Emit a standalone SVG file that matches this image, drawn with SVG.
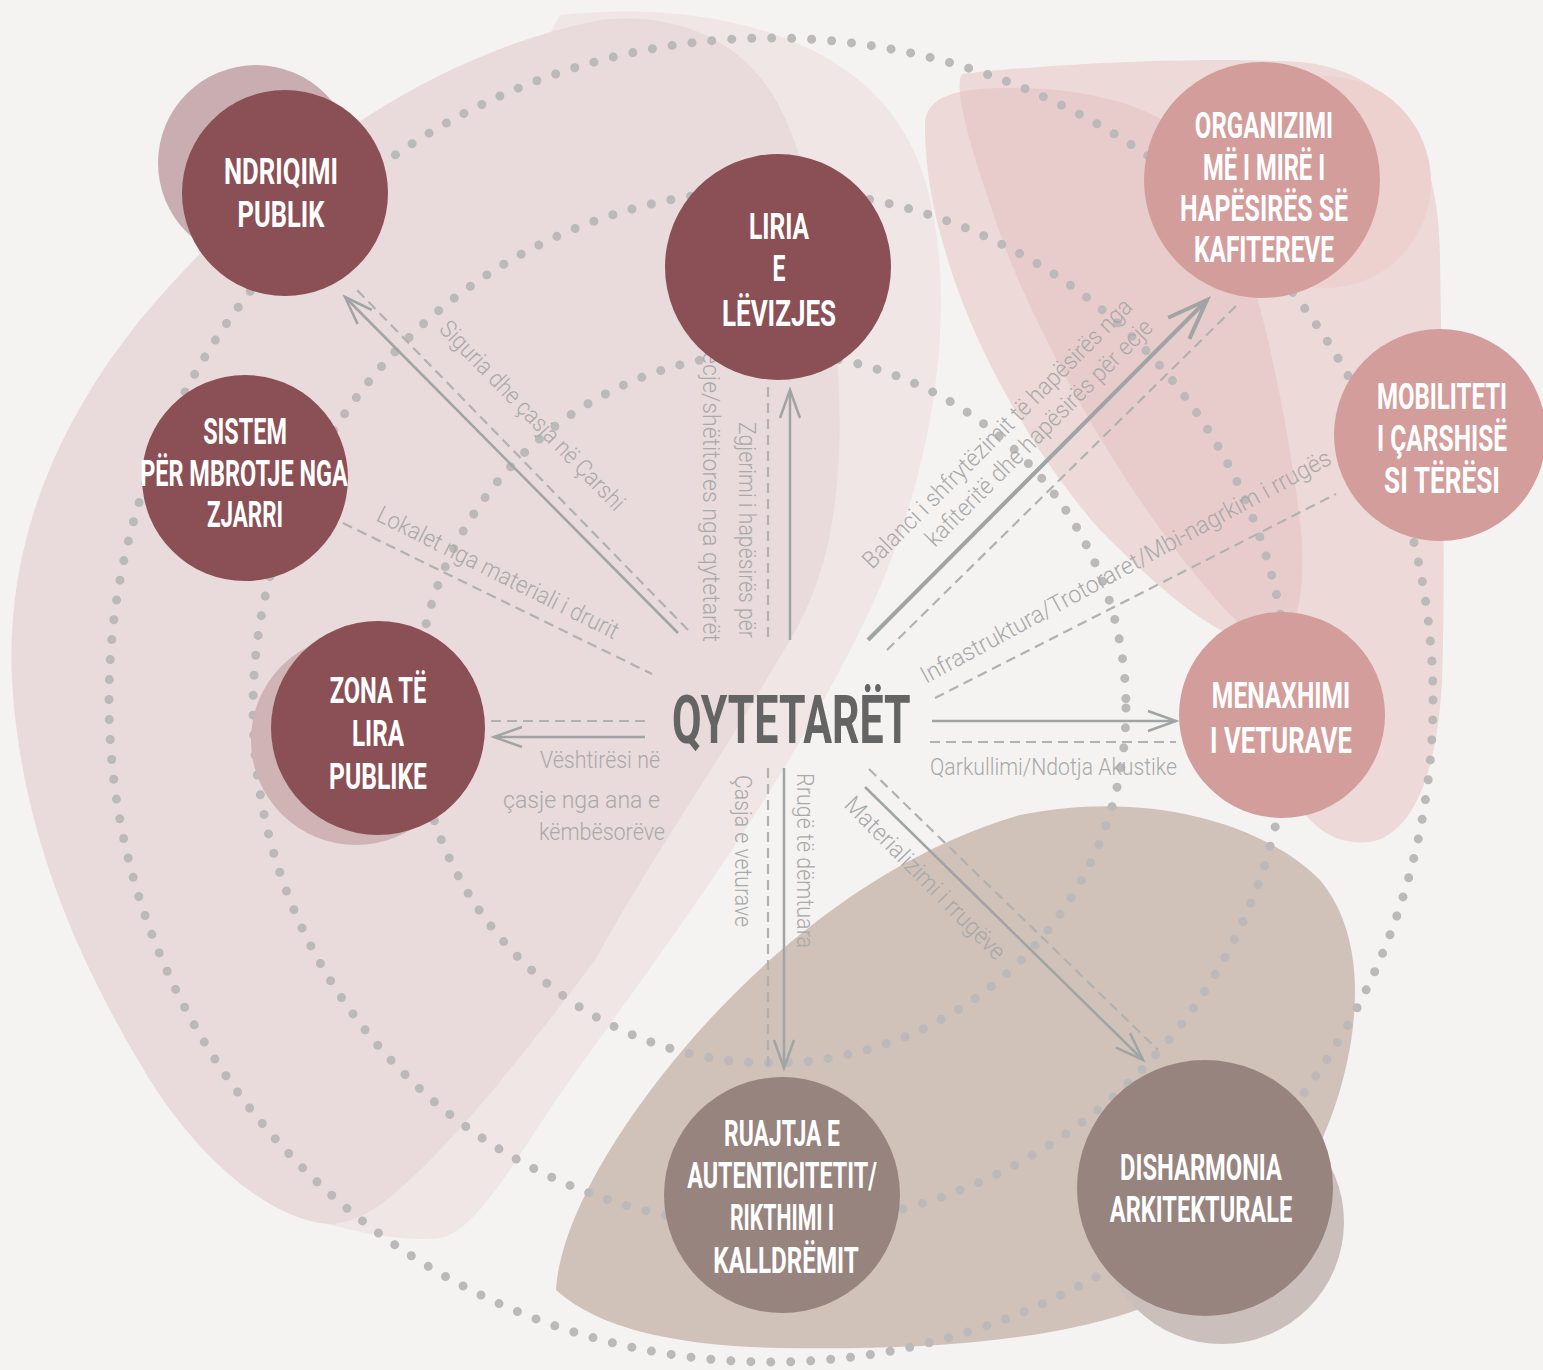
<svg xmlns="http://www.w3.org/2000/svg" width="1543" height="1370" viewBox="0 0 1543 1370">
<defs>
<style>
.dot{fill:none;stroke:#bbb9b9;stroke-width:9;stroke-linecap:round;stroke-dasharray:0 20}
.sol{fill:none;stroke:#a0a4a4;stroke-width:2.5}
.dsh{fill:none;stroke:#b1b1b1;stroke-width:2.2;stroke-dasharray:10 6}
.lbl{font-family:Roboto,"Liberation Sans",sans-serif;font-weight:300;font-size:24px;fill:#a9a9a9}
.nl{font-family:Roboto,"Liberation Sans",sans-serif;font-weight:700;font-size:37px;fill:#ffffff;text-anchor:middle}
.n-dark{fill:#8b4f56}
.n-pink{fill:#d39d9c}
.n-brown{fill:#97847f}
.rp{fill:#e4c0be;opacity:0.5}
</style>
<marker id="arr" viewBox="-32 -14 34 28" refX="0" refY="0" markerWidth="34" markerHeight="28" markerUnits="userSpaceOnUse" orient="auto" overflow="visible">
<path d="M-28,-10 L0,0 L-28,10" fill="none" stroke="#a0a4a4" stroke-width="2.5"/>
</marker>
<marker id="arrBig" viewBox="-46 -20 48 40" refX="0" refY="0" markerWidth="48" markerHeight="40" markerUnits="userSpaceOnUse" orient="auto" overflow="visible">
<path d="M-40,-15 L0,0 L-40,15" fill="none" stroke="#a0a4a4" stroke-width="4"/>
</marker>
</defs>

<rect x="0" y="0" width="1543" height="1370" fill="#f4f3f2"/>

<g id="background-shapes">
<path d="M560,15 C700,0 880,30 925,180 C960,300 935,470 870,610 C790,780 670,940 570,1080 C520,1150 480,1230 440,1238 C400,1242 360,1232 330,1225 L300,1200 C250,1100 400,300 560,15 Z" fill="#f0e6e6"/>
<path d="M600,20 C690,10 760,50 790,130 C830,230 845,380 838,470 C832,560 810,610 778,660 C720,760 650,860 595,960 C520,1060 440,1160 380,1205 C350,1225 330,1226 315,1222 C265,1212 200,1160 150,1080 C70,950 20,820 12,680 C5,540 60,420 140,320 C240,200 400,60 600,20 Z" fill="#e9dadb"/>
<path class="rp" d="M925,125 C925,95 960,88 1010,88 C1090,88 1160,105 1200,150 C1250,230 1285,400 1300,520 C1308,600 1295,645 1265,645 C1220,642 1160,590 1100,530 C1030,450 970,340 945,250 C930,200 925,160 925,125 Z"/>
<path class="rp" d="M962,74 C1050,64 1200,56 1300,62 C1400,72 1440,150 1440,260 C1442,400 1446,560 1442,680 C1437,780 1410,835 1370,842 C1330,846 1300,822 1282,770 C1270,720 1280,680 1270,650 C1200,600 1080,430 1010,260 C985,190 950,92 962,74 Z"/>
<path d="M556,1290 C560,1220 620,1120 700,1030 C790,930 900,850 1020,815 C1140,790 1260,820 1320,880 C1370,940 1360,1040 1330,1120 C1300,1200 1230,1270 1150,1305 C1050,1345 900,1350 780,1348 C680,1346 600,1330 556,1290 Z" fill="#d0c1b9"/>
</g>

<g id="dotted-rings">
<circle class="dot" cx="771" cy="700" r="662"/>
<circle class="dot" cx="771" cy="708" r="518"/>
<circle class="dot" cx="771" cy="708" r="355"/>
</g>

<g id="connectors">
<line class="sol" x1="678" y1="633" x2="345" y2="297" marker-end="url(#arr)"/>
<line class="dsh" x1="688" y1="630" x2="357" y2="290"/>
<text class="lbl" transform="translate(438,330) rotate(45.8)" textLength="254" lengthAdjust="spacingAndGlyphs">Siguria dhe çasja në Çarshi</text>

<line class="dsh" x1="343" y1="523" x2="652" y2="674"/>
<text class="lbl" transform="translate(375,520) rotate(26.6)" textLength="267" lengthAdjust="spacingAndGlyphs">Lokalet nga materiali i drurit</text>

<line class="sol" x1="790" y1="640" x2="790" y2="390" marker-end="url(#arr)"/>
<line class="dsh" x1="768" y1="387" x2="768" y2="640"/>
<text class="lbl" transform="translate(739,422) rotate(90)" textLength="216" lengthAdjust="spacingAndGlyphs">Zgjerimi i hapësirës për</text>
<text class="lbl" transform="translate(703,352) rotate(90)" textLength="290" lengthAdjust="spacingAndGlyphs">ecje/shëtitores nga qytetarët</text>

<line x1="868" y1="640" x2="1207" y2="300" stroke="#a0a4a4" stroke-width="4" marker-end="url(#arrBig)"/>
<line class="dsh" x1="887" y1="650" x2="1237" y2="305"/>
<text class="lbl" transform="translate(872,570) rotate(-45)" textLength="370" lengthAdjust="spacingAndGlyphs">Balanci i shfrytëzimit të hapësirës nga</text>
<text class="lbl" transform="translate(935,548) rotate(-45)" textLength="310" lengthAdjust="spacingAndGlyphs">kafiteritë dhe hapësirës për ecje</text>

<line class="dsh" x1="935" y1="698" x2="1336" y2="494"/>
<text class="lbl" transform="translate(926,684) rotate(-28.5)" textLength="463" lengthAdjust="spacingAndGlyphs">Infrastruktura/Trotoraret/Mbi-nagrkim i rrugës</text>

<line class="sol" x1="932" y1="721" x2="1176" y2="721" marker-end="url(#arr)"/>
<line class="dsh" x1="930" y1="742" x2="1176" y2="742"/>
<text class="lbl" x="930" y="775" textLength="247" lengthAdjust="spacingAndGlyphs">Qarkullimi/Ndotja Akustike</text>

<line class="dsh" x1="645" y1="721" x2="491" y2="721"/>
<line class="sol" x1="645" y1="737" x2="494" y2="737" marker-end="url(#arr)"/>
<text class="lbl" x="660" y="768" text-anchor="end" textLength="120" lengthAdjust="spacingAndGlyphs">Vështirësi në</text>
<text class="lbl" x="660" y="808" text-anchor="end" textLength="157" lengthAdjust="spacingAndGlyphs">çasje nga ana e</text>
<text class="lbl" x="665" y="840" text-anchor="end" textLength="126" lengthAdjust="spacingAndGlyphs">këmbësorëve</text>

<line class="dsh" x1="768" y1="768" x2="768" y2="1072"/>
<line class="sol" x1="784" y1="768" x2="784" y2="1068" marker-end="url(#arr)"/>
<text class="lbl" transform="translate(735,775) rotate(90)" textLength="152" lengthAdjust="spacingAndGlyphs">Çasja e veturave</text>
<text class="lbl" transform="translate(797,773) rotate(90)" textLength="175" lengthAdjust="spacingAndGlyphs">Rrugë të dëmtuara</text>

<line class="dsh" x1="869" y1="769" x2="1158" y2="1050"/>
<line class="sol" x1="865" y1="787" x2="1143" y2="1060" marker-end="url(#arr)"/>
<text class="lbl" transform="translate(843,806) rotate(45.5)" textLength="218" lengthAdjust="spacingAndGlyphs">Materializimi i rrugëve</text>
</g>

<g id="node-ndriqimi">
<circle cx="256" cy="163" r="98" fill="#c9adb0"/>
<circle class="n-dark" cx="285" cy="193" r="103"/>
<text class="nl" transform="translate(281,184) scale(0.62,1)" textLength="184" lengthAdjust="spacingAndGlyphs">NDRIQIMI</text>
<text class="nl" transform="translate(281,227) scale(0.62,1)" textLength="140" lengthAdjust="spacingAndGlyphs">PUBLIK</text>
</g>

<g id="node-liria">
<circle class="n-dark" cx="778" cy="267" r="113"/>
<text class="nl" transform="translate(779,239) scale(0.62,1)" textLength="97" lengthAdjust="spacingAndGlyphs">LIRIA</text>
<text class="nl" transform="translate(779,281) scale(0.62,1)">E</text>
<text class="nl" transform="translate(779,326) scale(0.62,1)" textLength="184" lengthAdjust="spacingAndGlyphs">LËVIZJES</text>
</g>

<g id="node-sistem">
<circle class="n-dark" cx="245" cy="478" r="103"/>
<text class="nl" transform="translate(245,444) scale(0.62,1)" textLength="135" lengthAdjust="spacingAndGlyphs">SISTEM</text>
<text class="nl" transform="translate(244,486) scale(0.62,1)" textLength="335" lengthAdjust="spacingAndGlyphs">PËR MBROTJE NGA</text>
<text class="nl" transform="translate(245,527) scale(0.62,1)" textLength="123" lengthAdjust="spacingAndGlyphs">ZJARRI</text>
</g>

<g id="node-zona">
<circle cx="356" cy="740" r="105" fill="#cfb3b5"/>
<circle class="n-dark" cx="378" cy="728" r="107"/>
<text class="nl" transform="translate(378,703) scale(0.62,1)" textLength="156" lengthAdjust="spacingAndGlyphs">ZONA TË</text>
<text class="nl" transform="translate(378,746) scale(0.62,1)" textLength="84" lengthAdjust="spacingAndGlyphs">LIRA</text>
<text class="nl" transform="translate(378,789) scale(0.62,1)" textLength="158" lengthAdjust="spacingAndGlyphs">PUBLIKE</text>
</g>

<g id="node-organizimi">
<circle cx="1325" cy="182" r="106" fill="#ecd1cf"/>
<circle class="n-pink" cx="1262" cy="180" r="118"/>
<text class="nl" transform="translate(1264,138) scale(0.62,1)" textLength="223" lengthAdjust="spacingAndGlyphs">ORGANIZIMI</text>
<text class="nl" transform="translate(1264,180) scale(0.62,1)" textLength="197" lengthAdjust="spacingAndGlyphs">MË I MIRË I</text>
<text class="nl" transform="translate(1264,221) scale(0.62,1)" textLength="271" lengthAdjust="spacingAndGlyphs">HAPËSIRËS SË</text>
<text class="nl" transform="translate(1264,262) scale(0.62,1)" textLength="226" lengthAdjust="spacingAndGlyphs">KAFITEREVE</text>
</g>

<g id="node-mobiliteti">
<circle class="n-pink" cx="1440" cy="435" r="106"/>
<text class="nl" transform="translate(1442,409) scale(0.62,1)" textLength="210" lengthAdjust="spacingAndGlyphs">MOBILITETI</text>
<text class="nl" transform="translate(1442,451) scale(0.62,1)" textLength="210" lengthAdjust="spacingAndGlyphs">I ÇARSHISË</text>
<text class="nl" transform="translate(1442,493) scale(0.62,1)" textLength="187" lengthAdjust="spacingAndGlyphs">SI TËRËSI</text>
</g>

<g id="node-menaxhimi">
<circle class="n-pink" cx="1282" cy="715" r="103"/>
<text class="nl" transform="translate(1281,708) scale(0.62,1)" textLength="223" lengthAdjust="spacingAndGlyphs">MENAXHIMI</text>
<text class="nl" transform="translate(1281,753) scale(0.62,1)" textLength="229" lengthAdjust="spacingAndGlyphs">I VETURAVE</text>
</g>

<g id="node-ruajtja">
<circle class="n-brown" cx="782" cy="1195" r="118"/>
<text class="nl" transform="translate(782,1146) scale(0.62,1)" textLength="187" lengthAdjust="spacingAndGlyphs">RUAJTJA E</text>
<text class="nl" transform="translate(782,1188) scale(0.62,1)" textLength="306" lengthAdjust="spacingAndGlyphs">AUTENTICITETIT/</text>
<text class="nl" transform="translate(782,1230) scale(0.62,1)" textLength="168" lengthAdjust="spacingAndGlyphs">RIKTHIMI I</text>
<text class="nl" transform="translate(786,1273) scale(0.62,1)" textLength="235" lengthAdjust="spacingAndGlyphs">KALLDRËMIT</text>
</g>

<g id="node-disharmonia">
<circle cx="1222" cy="1222" r="122" fill="#cbbfbb"/>
<circle class="n-brown" cx="1205" cy="1188" r="128"/>
<text class="nl" transform="translate(1201,1180) scale(0.62,1)" textLength="261" lengthAdjust="spacingAndGlyphs">DISHARMONIA</text>
<text class="nl" transform="translate(1201,1222) scale(0.62,1)" textLength="294" lengthAdjust="spacingAndGlyphs">ARKITEKTURALE</text>
</g>

<g id="node-qytetaret">
<text transform="translate(672,743) scale(0.645,1)" font-family="Roboto,'Liberation Sans',sans-serif" font-weight="700" font-size="66" fill="#646464" textLength="370" lengthAdjust="spacingAndGlyphs">QYTETARËT</text>
</g>
</svg>
